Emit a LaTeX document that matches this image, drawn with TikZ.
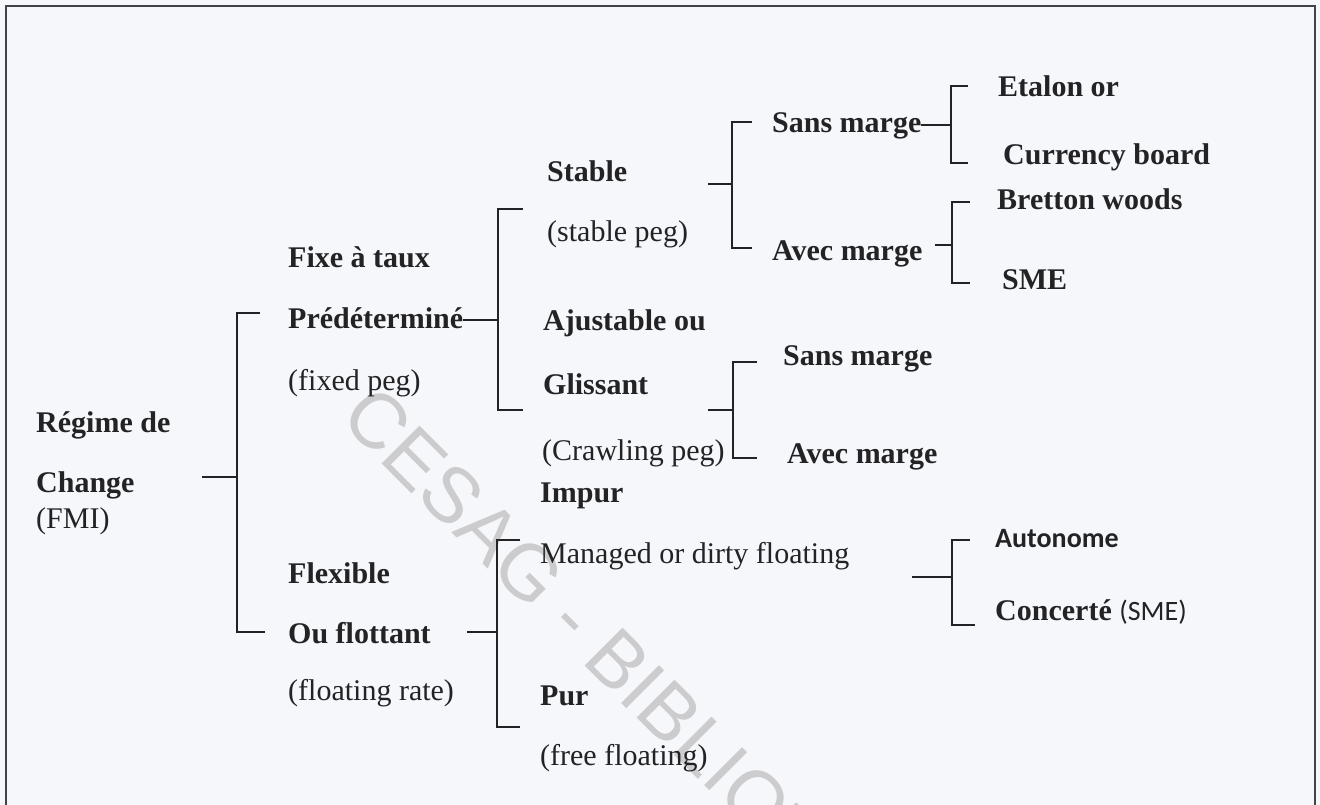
\documentclass[tikz,border=0pt]{standalone}
\usepackage{fontspec}
\setmainfont{Liberation Serif}
\newfontfamily\calib{Carlito}
\newfontfamily\stampfont{Liberation Sans}
\definecolor{paper}{RGB}{246,247,250}
\definecolor{ink}{RGB}{35,35,38}
\definecolor{stamp}{RGB}{204,204,206}
\tikzset{
  bold/.style={anchor=base west, inner sep=0pt, text=ink, font=\fontsize{30}{36}\selectfont\bfseries},
  thin/.style={anchor=base west, inner sep=0pt, text=ink, font=\fontsize{30}{36}\selectfont},
  link/.style={draw=ink, line width=2pt},
  frameline/.style={draw=ink!85, line width=2pt}
}
% bracket: #1 = stub start x, #2 = spine x, #3 = stub y, #4 = top y, #5 = bottom y, #6 = top arm end x, #7 = bottom arm end x, #8 = name
\newcommand\brk[8]{%
  \coordinate (#8-in) at (#1,#3);
  \coordinate (#8-j) at (#2,#3);
  \coordinate (#8-t) at (#6,#4);
  \coordinate (#8-b) at (#7,#5);
  \draw[link] (#8-in) -- (#8-j);
  \draw[link] (#8-t) -- (#8-t -| #8-j) -- (#8-b -| #8-j) -- (#8-b);
}
\begin{document}
\begin{tikzpicture}[x=1pt,y=-1pt]
\useasboundingbox (0,0) rectangle (1320,805);
\fill[paper] (0,0) rectangle (1320,805);

% library stamp across the sheet
\begin{scope}
\clip (6,6) rectangle (1315,805);
\node[rotate=-45, anchor=west, inner sep=0pt, text=stamp,
      font=\stampfont\fontsize{78}{84}\selectfont] (stampmark) at (352,405) {CESAG - BIBLIOTHEQUE};
\end{scope}

% frame
\draw[frameline] (6,805) -- (6,6) -- (1315,6) -- (1315,805);

% root
\node[bold] (regime) at (36,432) {Régime de};
\node[bold] (change) at (36,492) {Change};
\node[thin] (fmi) at (36,528) {(FMI)};

% fixed branch
\node[bold] (fixe) at (288,268) {Fixe à taux};
\node[bold] (predet) at (288,328) {Prédéterminé};
\node[thin] (fixedpeg) at (288,390) {(fixed peg)};

\node[bold] (stable) at (547,182) {Stable};
\node[thin] (stablepeg) at (547,241) {(stable peg)};
\node[bold] (ajust) at (543,330) {Ajustable ou};
\node[bold] (gliss) at (543,394) {Glissant};
\node[thin] (crawl) at (542,460) {(Crawling peg)};

\node[bold] (sansA) at (772,133) {Sans marge};
\node[bold] (avecA) at (772,260) {Avec marge};
\node[bold] (sansB) at (783,365) {Sans marge};
\node[bold] (avecB) at (787,463) {Avec marge};

\node[bold] (etalon) at (998,97) {Etalon or};
\node[bold] (currency) at (1003,165) {Currency board};
\node[bold] (bretton) at (997,210) {Bretton woods};
\node[bold] (sme) at (1002,289) {SME};

% flexible branch
\node[bold] (flexible) at (288,583) {Flexible};
\node[bold] (flott) at (288,643) {Ou flottant};
\node[thin] (floatrate) at (288,700) {(floating rate)};

\node[bold] (impur) at (540,502) {Impur};
\node[thin] (managed) at (540,563) {Managed or dirty floating};
\node[bold] (pur) at (540,705) {Pur};
\node[thin] (freefloat) at (540,765) {(free floating)};

\node[anchor=base west, inner sep=0pt, text=ink, font=\calib\fontsize{28}{34}\selectfont\bfseries] (autonome) at (995,547) {Autonome};
\node[anchor=base west, inner sep=0pt, text=ink, font=\fontsize{30}{36}\selectfont] (concerte) at (995,620) {\textbf{Concerté} {\calib\fontsize{28}{34}\selectfont (SME)}};

% brackets
\brk{202}{237}{477}{313}{632}{260}{265}{root}
\brk{463}{498}{320}{209}{410}{523}{523}{fix}
\brk{708}{732}{184}{122}{248}{752}{752}{stab}
\brk{921}{951}{125}{86}{163}{968}{968}{sans}
\brk{935}{952}{245}{202}{283}{970}{970}{avec}
\brk{708}{733}{410}{362}{458}{757}{757}{crawl}
\brk{467}{497}{632}{540}{727}{520}{520}{flot}
\brk{912}{952}{577}{540}{625}{970}{975}{manag}
\end{tikzpicture}
\end{document}
